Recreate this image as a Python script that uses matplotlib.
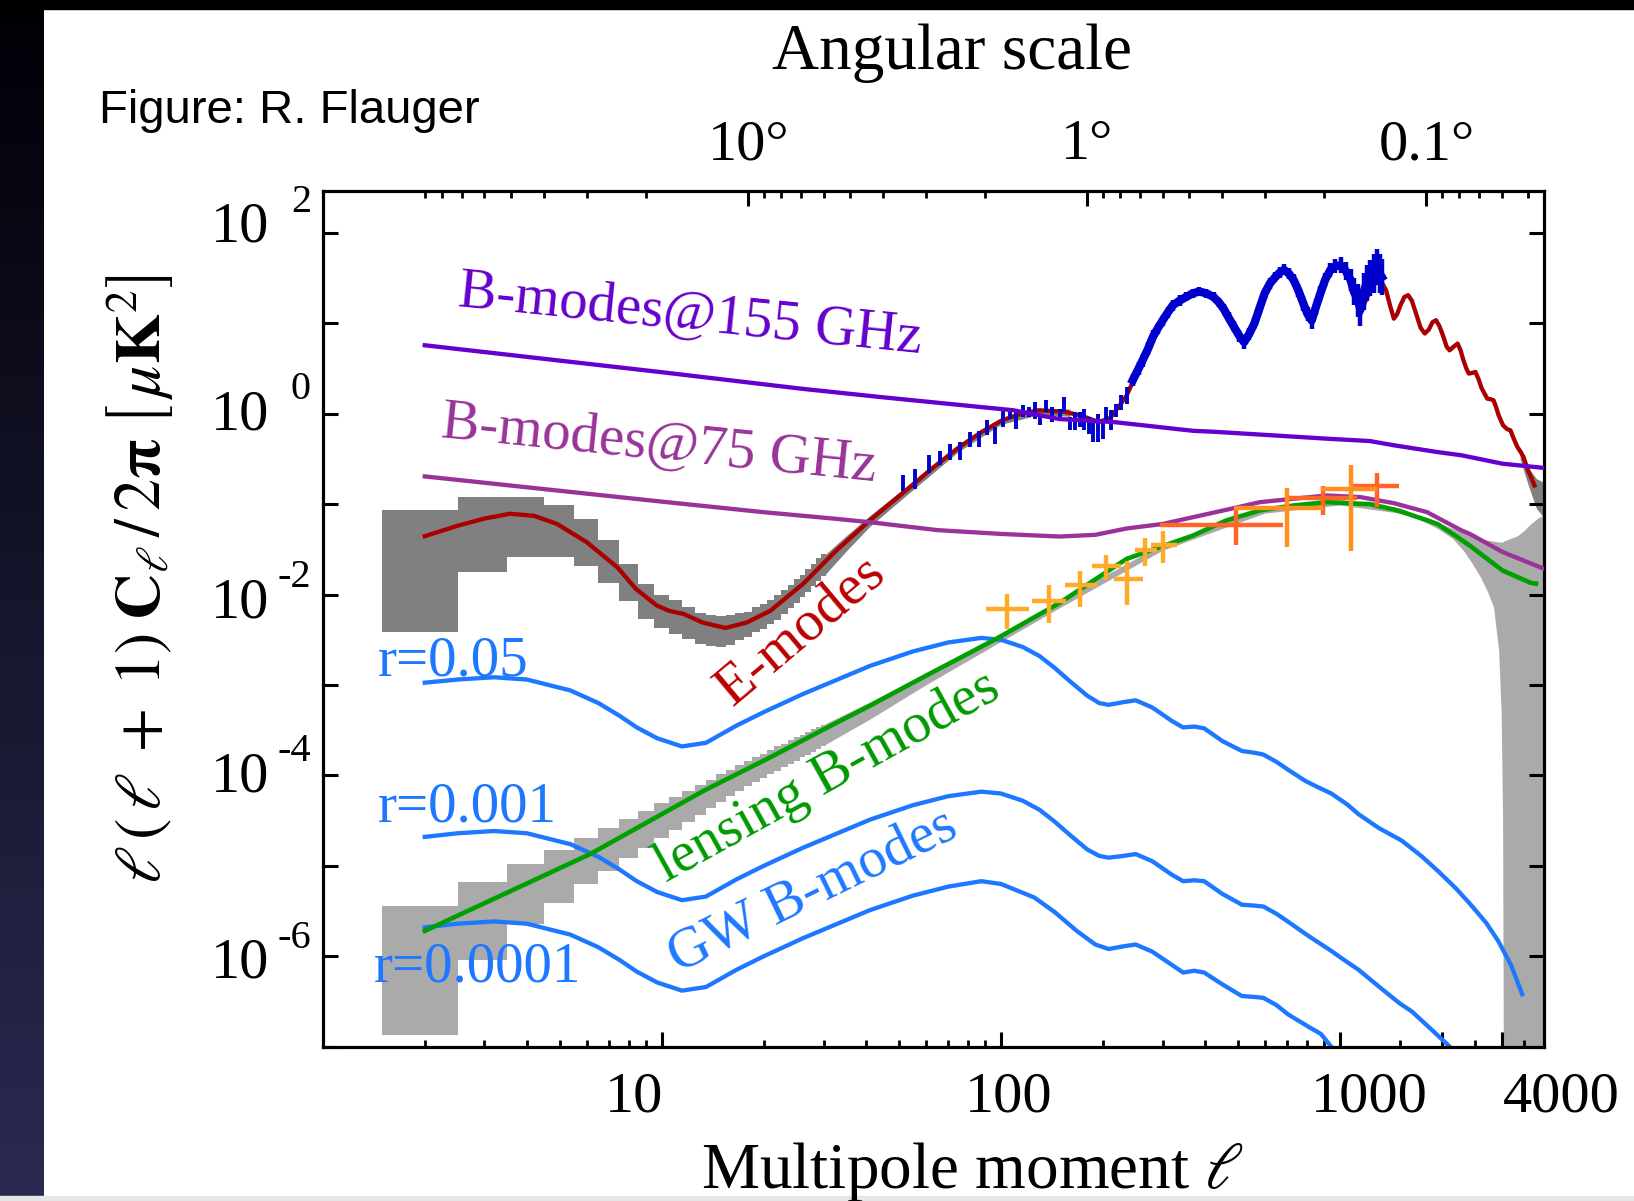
import numpy as np
import matplotlib
matplotlib.use('Agg')
import matplotlib.pyplot as plt
from matplotlib.ticker import FixedLocator, NullFormatter, NullLocator
from matplotlib.patches import Rectangle

plt.rcParams['font.family'] = ['Liberation Serif', 'DejaVu Serif']
plt.rcParams['mathtext.fontset'] = 'stix'

W, H = 1634, 1201  # output size in pixels


def fx(x):
    return x / W


def fy(y):
    return 1 - y / H


# ---------------- data: log10 of l(l+1)C_l/2pi [uK^2] ----------------
# E-mode theory curve
ee_ell = [2, 2.5, 3, 3.57, 4.2, 4.9, 6.0, 7.4, 8.4, 9.66, 10.5, 11.6, 13.2, 15.4, 17.8, 20.9, 26.1,
          32.7, 41.1, 52.5, 63, 75.4, 88, 100.8, 115, 129, 155, 175, 194, 210, 225, 235, 262, 281,
          300, 322, 352, 385, 424, 454, 487, 522, 560, 600, 645, 684, 730, 780, 826, 876, 938,
          1005, 1075, 1130, 1150, 1200, 1290, 1330, 1368, 1405, 1443, 1475, 1510, 1550, 1590,
          1630, 1680, 1730, 1780, 1830, 1875, 1920, 1965, 2020, 2065, 2107, 2165, 2225, 2270,
          2310, 2360, 2400, 2455, 2510, 2565, 2620, 2720, 2780, 2840, 2890, 2940, 3030, 3110,
          3185, 3260, 3340, 3410, 3480, 3590, 3670, 3750]
ee_log = [-1.355, -1.24, -1.16, -1.107, -1.13, -1.218, -1.42, -1.70, -1.94, -2.12, -2.18, -2.215,
          -2.31, -2.37, -2.31, -2.18, -1.883, -1.514, -1.18, -0.85, -0.60, -0.37, -0.20, -0.074,
          0.0, 0.037, 0.02, -0.03, -0.093, -0.05, 0.10, 0.2, 0.59, 0.85, 1.03, 1.19, 1.29, 1.347,
          1.29, 1.16, 0.96, 0.80, 1.0, 1.33, 1.51, 1.587, 1.48, 1.22, 1.03, 1.33, 1.587, 1.64,
          1.48, 1.20, 1.10, 1.28, 1.48, 1.45, 1.365, 1.20, 1.05, 1.10, 1.20, 1.29, 1.31, 1.25,
          1.10, 0.95, 0.886, 0.93, 1.01, 1.033, 0.97, 0.85, 0.74, 0.70, 0.74, 0.775, 0.70, 0.60,
          0.50, 0.443, 0.45, 0.461, 0.38, 0.28, 0.166, 0.16, 0.147, 0.07, -0.02, -0.13, -0.17,
          -0.185, -0.28, -0.37, -0.42, -0.48, -0.63, -0.71, -0.794]

# E-mode cosmic variance boxes (one per multipole) and smooth band above
ee_box_ell = list(range(2, 31))
ee_box_lo = [-2.41, -1.75, -1.58, -1.58, -1.69, -1.87, -2.07, -2.27, -2.37, -2.44, -2.49, -2.55,
             -2.57, -2.58, -2.56, -2.50, -2.47, -2.42, -2.38, -2.33, -2.28, -2.22, -2.15, -2.09,
             -2.03, -1.97, -1.91, -1.85, -1.80]
ee_box_hi = [-1.07, -0.92, -0.92, -1.01, -1.17, -1.40, -1.66, -1.88, -2.01, -2.06, -2.14, -2.20,
             -2.23, -2.24, -2.23, -2.21, -2.19, -2.14, -2.10, -2.06, -2.01, -1.95, -1.89, -1.83,
             -1.78, -1.72, -1.66, -1.60, -1.55]
ee_band_ell = [30.3, 35, 41, 52, 75, 100, 130, 160]
ee_band_lo = [-1.78, -1.52, -1.25, -0.92, -0.42, -0.12, -0.01, -0.03]
ee_band_hi = [-1.56, -1.35, -1.13, -0.82, -0.34, -0.05, 0.06, 0.05]
ee_tail_ell = [3400, 3600, 3800, 4000]
ee_tail_lo = [-0.50, -0.80, -1.05, -1.15]
ee_tail_hi = [-0.42, -0.60, -0.72, -0.76]

# lensing B-modes
lens_ell = [2, 6.15, 13.3, 20.9, 32.7, 41.1, 60, 97, 149.5, 187.6, 235, 294, 369, 463, 581, 730,
            916, 1150, 1225, 1443, 1534, 1810, 1940, 2225, 2418, 3020, 3650, 3790]
lens_log = [-5.72, -4.87, -4.17, -3.80, -3.42, -3.23, -2.90, -2.49, -2.09, -1.846, -1.606, -1.477,
            -1.348, -1.18, -1.07, -1.016, -0.979, -0.997, -1.0, -1.06, -1.09, -1.18, -1.22,
            -1.367, -1.46, -1.735, -1.87, -1.88]
lens_box_ell = list(range(2, 31))
lens_box_lo = [-6.866, -6.036, -5.648, -5.41, -5.205, -5.058, -4.91, -4.80, -4.69, -4.60, -4.51,
               -4.44, -4.36, -4.29, -4.23, -4.17, -4.12, -4.07, -4.03, -3.99, -3.95, -3.91, -3.87,
               -3.84, -3.80, -3.77, -3.74, -3.71, -3.68]
lens_box_hi = [-5.445, -5.179, -4.977, -4.83, -4.69, -4.578, -4.478, -4.393, -4.31, -4.24, -4.17,
               -4.11, -4.05, -3.99, -3.94, -3.89, -3.84, -3.80, -3.76, -3.72, -3.68, -3.65, -3.61,
               -3.58, -3.55, -3.52, -3.49, -3.46, -3.44]
lens_band_ell = [30.3, 41, 60, 100, 150, 300, 600, 1000, 1500, 1700, 1940, 2150, 2310,
                 2450, 2600, 2720, 2840, 2940, 2990, 3020, 3040, 3340, 3500, 3650, 3850, 4000]
lens_band_lo = [-3.66, -3.38, -3.00, -2.52, -2.14, -1.51, -1.10, -1.01, -1.10,
                -1.16, -1.27, -1.38, -1.51, -1.65, -1.81, -1.96, -2.14, -2.62, -3.3, -4.5, -8,
                -8, -8, -8, -8, -8]
lens_band_hi = [-3.43, -3.19, -2.87, -2.43, -2.06, -1.44, -1.03, -0.95, -1.04,
                -1.12, -1.20, -1.27, -1.31, -1.35, -1.38, -1.40, -1.41, -1.42, -1.42, -1.42,
                -1.41, -1.35, -1.29, -1.22, -1.15, -1.12]

# foreground B-modes
fg155_ell = [2, 10, 25.6, 44, 109, 149, 215, 369, 424, 916, 1225, 1443, 1940, 2280, 3020, 4000]
fg155_log = [0.756, 0.458, 0.277, 0.184, 0.037, -0.06, -0.093, -0.19, -0.2, -0.277, -0.303,
             -0.35, -0.425, -0.46, -0.554, -0.60]
fg75_ell = [2, 5, 10, 20, 32, 41, 65, 100, 149, 190, 235, 300, 369, 463, 581, 730, 916, 1150,
            1443, 1810, 2280, 2418, 3020, 4000]
fg75_log = [-0.694, -0.853, -0.973, -1.09, -1.16, -1.20, -1.288, -1.33, -1.359, -1.34, -1.27,
            -1.22, -1.145, -1.063, -0.979, -0.941, -0.905, -0.923, -0.99, -1.09, -1.29, -1.33,
            -1.53, -1.716]

# primordial (GW) B-modes
gw05_ell = [2, 2.5, 3.2, 4, 5.37, 6.5, 7.5, 8.44, 9.7, 11.47, 13.5, 16.6, 20, 26.1, 33, 41.1, 55,
            70, 87.6, 100, 116, 130, 144, 160, 180, 195, 208, 230, 250, 280, 320, 345, 372, 398,
            450, 514, 560, 595, 650, 705, 790, 850, 943, 1050, 1136, 1300, 1520, 1750, 1950, 2200,
            2420, 2700, 2930, 3200, 3450]
gw05_log = [-2.975, -2.94, -2.915, -2.94, -3.06, -3.20, -3.34, -3.47, -3.59, -3.68, -3.64, -3.45,
            -3.30, -3.10, -2.94, -2.79, -2.63, -2.53, -2.48, -2.50, -2.58, -2.68, -2.81, -2.96,
            -3.12, -3.20, -3.22, -3.19, -3.17, -3.25, -3.40, -3.47, -3.46, -3.48, -3.62, -3.73,
            -3.75, -3.77, -3.85, -3.94, -4.06, -4.12, -4.20, -4.32, -4.43, -4.58, -4.72, -4.90,
            -5.06, -5.25, -5.42, -5.63, -5.83, -6.10, -6.42]
gw001_ell = [2, 2.5, 3.2, 4, 5.37, 6.5, 7.5, 8.44, 9.7, 11.47, 13.5, 16.6, 20, 26.1, 33, 41.1, 55,
             70, 87.6, 100, 116, 130, 144, 160, 180, 195, 208, 230, 250, 280, 320, 345, 372, 398,
             450, 514, 560, 595, 650, 705, 790, 850, 943, 1010, 1136, 1318, 1500, 1630, 1850,
             2110, 2300]
gw001_log = [-4.68, -4.64, -4.615, -4.64, -4.76, -4.90, -5.04, -5.17, -5.29, -5.38, -5.34, -5.15,
             -5.00, -4.80, -4.64, -4.49, -4.33, -4.23, -4.18, -4.20, -4.28, -4.38, -4.51, -4.66,
             -4.82, -4.89, -4.91, -4.89, -4.87, -4.95, -5.10, -5.17, -5.16, -5.17, -5.31, -5.43,
             -5.44, -5.45, -5.53, -5.62, -5.75, -5.83, -5.94, -6.02, -6.15, -6.35, -6.52, -6.61,
             -6.80, -7.0, -7.15]
gw0001_ell = [2, 2.5, 3.2, 4, 5.37, 6.5, 7.5, 8.44, 9.7, 11.47, 13.5, 16.6, 20, 26.1, 33, 41.1,
              55, 70, 87.5, 100, 125.5, 144, 167.5, 190, 208, 230, 250, 280, 345, 372, 398, 450,
              514, 560, 595, 650, 705, 817, 880, 943, 1000]
gw0001_log = [-5.68, -5.64, -5.615, -5.64, -5.76, -5.90, -6.04, -6.17, -6.29, -6.38, -6.34, -6.15,
              -6.00, -5.80, -5.64, -5.49, -5.33, -5.23, -5.17, -5.20, -5.35, -5.51, -5.72, -5.87,
              -5.92, -5.89, -5.87, -5.95, -6.18, -6.16, -6.18, -6.31, -6.44, -6.45, -6.46, -6.54,
              -6.645, -6.79, -6.86, -7.0, -7.1]

# Planck EE data: low-l individual points (center, half error in log10)
pl_lo_ell = [51.4, 55.8, 61.5, 66.2, 71.0, 76.0, 81.2, 86.0, 91.0, 96.4, 101.7, 106.2, 111, 116,
             120.8, 126, 130.2, 135.6, 141.1, 149.3, 154, 160, 165, 170.7, 176.5, 181.6, 187.6,
             194, 199.6, 204.3, 211.2, 218.4, 225.5, 235]
pl_lo_log = [-0.765, -0.72, -0.56, -0.49, -0.425, -0.415, -0.285, -0.277, -0.157, -0.24, -0.046,
             0.0, -0.074, 0.027, 0.018, 0.036, -0.065, 0.083, -0.01, -0.01, 0.10, -0.11, -0.083,
             -0.065, -0.065, -0.13, -0.19, -0.157, -0.185, -0.01, -0.074, 0.037, 0.12, 0.2]
pl_lo_err = [0.085, 0.11, 0.1, 0.08, 0.09, 0.1, 0.085, 0.09, 0.083, 0.092, 0.1, 0.055, 0.092,
             0.065, 0.055, 0.092, 0.065, 0.065, 0.083, 0.065, 0.083, 0.074, 0.1, 0.083, 0.12,
             0.09, 0.12, 0.157, 0.092, 0.083, 0.11, 0.074, 0.083, 0.09]
# Planck EE data: dense high-l part
pl_hi_ell = [245, 255, 262, 272, 281, 290, 300, 311, 322, 337, 352, 368, 385, 404, 424, 440, 454,
             470, 487, 505, 522, 540, 560, 580, 600, 622, 645, 665, 684, 707, 730, 755, 780, 803,
             826, 850, 876, 905, 938, 970, 1005, 1040, 1075, 1100, 1130, 1150, 1175, 1200, 1230,
             1260, 1290, 1310, 1330]
pl_hi_log = [0.37, 0.50, 0.59, 0.72, 0.85, 0.94, 1.03, 1.12, 1.20, 1.25, 1.29, 1.33, 1.35, 1.33,
             1.29, 1.23, 1.16, 1.06, 0.96, 0.86, 0.79, 0.88, 1.0, 1.17, 1.33, 1.44, 1.51, 1.56,
             1.59, 1.55, 1.48, 1.36, 1.22, 1.10, 1.03, 1.18, 1.33, 1.48, 1.59, 1.63, 1.64, 1.58,
             1.48, 1.35, 1.25, 1.15, 1.35, 1.44, 1.50, 1.55, 1.62, 1.55, 1.51]
pl_hi_err = [0.07, 0.07, 0.07, 0.07, 0.07, 0.06, 0.06, 0.06, 0.06, 0.06, 0.05, 0.05, 0.05, 0.05,
             0.05, 0.05, 0.05, 0.06, 0.06, 0.07, 0.08, 0.07, 0.06, 0.06, 0.06, 0.06, 0.06, 0.06,
             0.06, 0.06, 0.06, 0.07, 0.08, 0.08, 0.09, 0.09, 0.08, 0.08, 0.08, 0.08, 0.09, 0.1,
             0.12, 0.15, 0.18, 0.18, 0.2, 0.2, 0.2, 0.22, 0.2, 0.22, 0.2]

# B-mode measurements (crosses)
bb_y_ell = [104.6, 138.6, 171, 203.6, 235, 267, 300]
bb_y_ell_lo = [90.5, 123.2, 154.6, 185.6, 215.6, 248.5, 278]
bb_y_ell_hi = [121, 156, 191.6, 226, 262.5, 289.5, 330]
bb_y_log = [-2.16, -2.07, -1.90, -1.687, -1.83, -1.51, -1.45]
bb_y_log_lo = [-2.38, -2.31, -2.14, -1.84, -2.12, -1.68, -1.65]
bb_y_log_hi = [-1.99, -1.90, -1.735, -1.562, -1.63, -1.37, -1.30]

bb_o_ell = [696, 1080]
bb_o_ell_lo = [487, 880]
bb_o_ell_hi = [890, 1290]
bb_o_log = [-1.04, -0.83]
bb_o_log_lo = [-1.47, -1.52]
bb_o_log_hi = [-0.82, -0.565]

bb_r_ell = [494, 890, 1290]
bb_r_ell_lo = [295, 700, 1080]
bb_r_ell_hi = [680, 1120, 1490]
bb_r_log = [-1.23, -0.93, -0.805]
bb_r_log_lo = [-1.45, -1.126, -1.034]
bb_r_log_hi = [-1.07, -0.805, -0.653]

# ---------------- colours ----------------
c155 = '#6600CC'
c75 = '#993399'
cE = '#AA0000'
cLens = '#00A000'
cGW = '#1E78FF'
cPlanck = '#0000CC'
cYel = '#FFAA28'
cOra = '#FF9020'
cRed = '#FF6428'
gDark = '#808080'
gLight = '#AAAAAA'
LW = 3.1


def p(v):
    return 10 ** np.asarray(v, dtype=float)


fig = plt.figure(figsize=(W / 100, H / 100), dpi=100)
fig.patch.set_facecolor('white')

# dark frame: black strip on top, navy gradient on the left, light strip at the bottom
fig.patches.append(Rectangle((0, fy(9)), 1, 9 / H, transform=fig.transFigure,
                             color='black', zorder=0))
fig.patches.append(Rectangle((0, 0), 1, 5 / H, transform=fig.transFigure,
                             color='#E6E6E6', zorder=0))
band_ax = fig.add_axes([0, 0, 44 / W, 1])
top_c = np.array([0, 0, 6]) / 255
bot_c = np.array([42, 42, 82]) / 255
t = np.linspace(0, 1, 200)[:, None, None]
band_ax.imshow(top_c + (bot_c - top_c) * t, aspect='auto', extent=[0, 1, 0, 1])
band_ax.axis('off')

ax = fig.add_axes([fx(322.7), fy(1046.7), (1544 - 322.7) / W, (1046.7 - 190.7) / H])
ax.set_xscale('log')
ax.set_yscale('log')

# gray uncertainty bands
ax.bar(ee_box_ell, p(ee_box_hi) - p(ee_box_lo), bottom=p(ee_box_lo), width=1.0,
       color=gDark, linewidth=0, antialiased=False, zorder=1)
ax.fill_between(ee_band_ell, p(ee_band_lo), p(ee_band_hi), color=gDark, lw=0, zorder=1)
ax.bar(lens_box_ell, p(lens_box_hi) - p(lens_box_lo), bottom=p(lens_box_lo), width=1.0,
       color=gLight, linewidth=0, antialiased=False, zorder=1)
ax.fill_between(lens_band_ell, p(lens_band_lo), p(lens_band_hi), color=gLight, lw=0, zorder=1)
ax.fill_between(ee_tail_ell, p(ee_tail_lo), p(ee_tail_hi), color=gDark, lw=0, zorder=1.1)

# theory curves
for ell, v in [(gw05_ell, gw05_log), (gw001_ell, gw001_log), (gw0001_ell, gw0001_log)]:
    ax.plot(ell, p(v), color=cGW, lw=LW, zorder=2, solid_joinstyle='round')
ax.plot(lens_ell, p(lens_log), color=cLens, lw=3.3, zorder=3, solid_joinstyle='round')
ax.plot(ee_ell, p(ee_log), color=cE, lw=LW, zorder=3, solid_joinstyle='round')

# Planck EE data
ax.vlines(pl_lo_ell, p(np.subtract(pl_lo_log, pl_lo_err)), p(np.add(pl_lo_log, pl_lo_err)),
          color=cPlanck, lw=2.8, zorder=4)
ax.plot(pl_hi_ell, p(pl_hi_log), color=cPlanck, lw=6.0, zorder=4, solid_joinstyle='round')
ax.vlines(pl_hi_ell, p(np.subtract(pl_hi_log, pl_hi_err)), p(np.add(pl_hi_log, pl_hi_err)),
          color=cPlanck, lw=3.2, zorder=4)

# foreground lines
ax.plot(fg75_ell, p(fg75_log), color=c75, lw=LW, zorder=5, solid_joinstyle='round')
ax.plot(fg155_ell, p(fg155_log), color=c155, lw=LW, zorder=5, solid_joinstyle='round')

# B-mode measurements
for ell, lo, hi, v, vlo, vhi, col in [
        (bb_y_ell, bb_y_ell_lo, bb_y_ell_hi, bb_y_log, bb_y_log_lo, bb_y_log_hi, cYel),
        (bb_r_ell, bb_r_ell_lo, bb_r_ell_hi, bb_r_log, bb_r_log_lo, bb_r_log_hi, cRed),
        (bb_o_ell, bb_o_ell_lo, bb_o_ell_hi, bb_o_log, bb_o_log_lo, bb_o_log_hi, cOra)]:
    ax.hlines(p(v), lo, hi, color=col, lw=3.2, zorder=6)
    ax.vlines(ell, p(vlo), p(vhi), color=col, lw=3.2, zorder=6)

ax.set_xlim(1, 4000)
ax.set_ylim(1e-7, 10 ** 2.465)

# axes styling
for s in ax.spines.values():
    s.set_linewidth(2.3)
ax.xaxis.set_major_locator(FixedLocator([10, 100, 1000, 2000, 3000]))
ax.xaxis.set_minor_locator(FixedLocator([2, 3, 4, 5, 6, 7, 8, 9, 20, 30, 40, 50, 60, 70, 80, 90,
                                         200, 300, 400, 500, 600, 700, 800, 900,
                                         1500, 2500, 3500]))
ax.yaxis.set_major_locator(FixedLocator([10.0 ** k for k in range(-7, 3)]))
ax.yaxis.set_minor_locator(NullLocator())
ax.xaxis.set_major_formatter(NullFormatter())
ax.xaxis.set_minor_formatter(NullFormatter())
ax.yaxis.set_major_formatter(NullFormatter())
ax.tick_params(which='both', direction='in', top=False, bottom=True, left=True, right=True)
ax.tick_params(which='major', length=11, width=2.2)
ax.tick_params(which='minor', length=5, width=2.0)

# top axis: angular scale
ax2 = ax.twiny()
ax2.set_xscale('log')
ax2.set_xlim(180, 180 / 4000)
ax2.xaxis.set_major_locator(FixedLocator([10, 1, 0.1]))
ax2.xaxis.set_minor_locator(FixedLocator([90, 80, 70, 60, 50, 40, 30, 20,
                                          9, 8, 7, 6, 5, 4, 3, 2,
                                          0.9, 0.8, 0.7, 0.6, 0.5, 0.4, 0.3, 0.2,
                                          0.09, 0.08, 0.07, 0.06, 0.05]))
ax2.xaxis.set_minor_formatter(NullFormatter())
ax2.set_xticklabels(['10°', '1°', '0.1°'])
ax2.tick_params(which='both', direction='in', top=True, bottom=False, labelsize=42, pad=14)
ax2.tick_params(which='major', length=11, width=2.2)
ax2.tick_params(which='minor', length=5, width=2.0)
for s in ax2.spines.values():
    s.set_visible(False)

# tick labels placed like the original
for lab, x in [('10', 634), ('100', 1009), ('1000', 1369), ('4000', 1561)]:
    fig.text(fx(x), fy(1111), lab, ha='center', va='baseline', fontsize=42)
for expo, base in [('2', 242), ('0', 429), ('-2', 617), ('-4', 791), ('-6', 978)]:
    fig.text(fx(269), fy(base), '10', ha='right', va='baseline', fontsize=42)
    fig.text(fx(311), fy(base - 30), expo, ha='right', va='baseline', fontsize=29)

fig.text(fx(952), fy(69), 'Angular scale', ha='center', va='baseline', fontsize=47)
fig.text(fx(973), fy(1188), r'Multipole moment $\ell$', ha='center', va='baseline', fontsize=47)
fig.text(fx(140), fy(579),
         r'$\ell\,(\,\ell\;+\;1)\;\mathbf{C}_{\ell}\,/\,2\mathbf{\pi}\;\left[\,\mu\mathbf{K}^{2}\right]$',
         rotation=90, ha='center', va='center', fontsize=46)
fig.text(fx(99), fy(123), 'Figure: R. Flauger', ha='left', va='baseline', fontsize=34,
         family=['Liberation Sans', 'DejaVu Sans'])

# curve labels
for txt, x, y, rot, col in [('B-modes@155 GHz', 690, 316, -5.8, c155),
                            ('B-modes@75 GHz', 659, 445, -5.8, c75),
                            ('E-modes', 801, 631, 40, '#BB0000'),
                            ('lensing B-modes', 828, 777, 29, '#009900'),
                            ('GW B-modes', 813, 891, 26, cGW)]:
    fig.text(fx(x), fy(y), txt, rotation=rot, rotation_mode='anchor', ha='center', va='center',
             fontsize=41, color=col)
for txt, x, base in [('r=0.05', 378, 675), ('r=0.001', 378, 822), ('r=0.0001', 374, 981)]:
    fig.text(fx(x), fy(base), txt, ha='left', va='baseline', fontsize=41, color=cGW)

fig.savefig('out.png', dpi=100, facecolor=fig.get_facecolor())
